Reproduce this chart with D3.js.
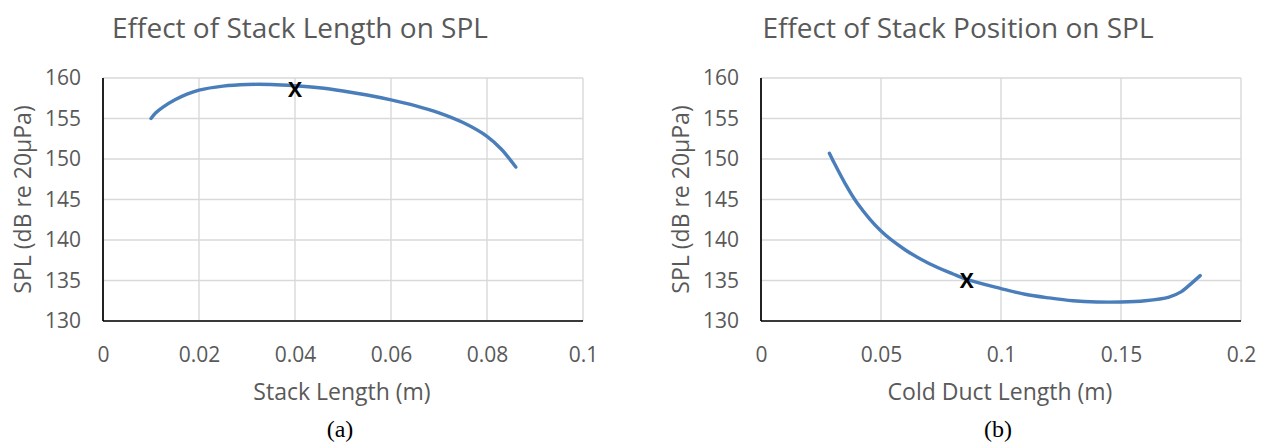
<!DOCTYPE html>
<html>
<head>
<meta charset="utf-8">
<script src="https://d3js.org/d3.v7.min.js"></script>
<style>
  body { margin: 0; background: #fff; }
  svg text { font-family: "Open Sans", sans-serif; fill: #595959; }
  .grid line { stroke: #d9d9d9; stroke-width: 1.4; }
  .axis-line { stroke: #000; stroke-width: 1.7; }
  .caption { font-family: "Liberation Serif", "DejaVu Serif", serif !important; fill: #000 !important; }
</style>
</head>
<body>
<svg id="chart" width="1264" height="443"></svg>
<script>
// ---------- data ----------
const stackLength = [0.010, 0.011, 0.0125, 0.015, 0.0175, 0.020, 0.025, 0.030, 0.035, 0.040, 0.045, 0.050, 0.055, 0.060, 0.065, 0.070, 0.075, 0.080, 0.083, 0.086];
const stackSPL    = [155.0, 155.7, 156.4, 157.3, 158.0, 158.5, 159.0, 159.2, 159.2, 159.05, 158.8, 158.4, 157.9, 157.3, 156.6, 155.7, 154.5, 152.8, 151.2, 149.0];
const stackMarker = [0.040, 158.6];

const ductLength = [0.0285, 0.030, 0.035, 0.040, 0.050, 0.060, 0.070, 0.080, 0.086, 0.100, 0.110, 0.120, 0.130, 0.140, 0.150, 0.160, 0.170, 0.175, 0.178, 0.183];
const ductSPL    = [150.7, 149.8, 147.0, 144.6, 141.1, 138.8, 137.1, 135.8, 135.1, 134.0, 133.3, 132.85, 132.5, 132.35, 132.35, 132.5, 132.95, 133.6, 134.3, 135.6];
const ductMarker = [0.0857, 135.0];

const yTicks = [130, 135, 140, 145, 150, 155, 160];
const xTicksA = [0, 0.02, 0.04, 0.06, 0.08, 0.1];
const xTicksB = [0, 0.05, 0.1, 0.15, 0.2];

const titles = ["Effect of Stack Length on SPL", "Effect of Stack Position on SPL"];
const xTitles = ["Stack Length (m)", "Cold Duct Length (m)"];
const captions = ["(a)", "(b)"];
const yTitle = "SPL (dB re 20\u00b5Pa)";

// ---------- drawing ----------
const svg = d3.select("#chart");

function drawPanel(cfg) {
  const g = svg.append("g").attr("transform", `translate(${cfg.left},${cfg.top})`);
  const w = cfg.width, h = cfg.height;

  const x = d3.scaleLinear().domain(cfg.xDomain).range([0, w]);
  const y = d3.scaleLinear().domain([130, 160]).range([h, 0]);

  // gridlines
  const grid = g.append("g").attr("class", "grid");
  grid.selectAll(".hg").data(yTicks).enter().append("line")
    .attr("x1", 0).attr("x2", w)
    .attr("y1", d => y(d)).attr("y2", d => y(d));
  grid.selectAll(".vg").data(cfg.xTicks).enter().append("line")
    .attr("y1", 0).attr("y2", h)
    .attr("x1", d => x(d)).attr("x2", d => x(d));

  // axes
  const yAxis = d3.axisLeft(y).tickValues(yTicks).tickSize(0).tickPadding(22);
  const xAxis = d3.axisBottom(x).tickValues(cfg.xTicks).tickSize(0).tickPadding(26)
    .tickFormat(d => String(d));

  const ya = g.append("g").call(yAxis);
  ya.select(".domain").remove();
  ya.selectAll("text").style("font-size", "21px").attr("fill", "#595959");

  const xa = g.append("g").attr("transform", `translate(0,${h})`).call(xAxis);
  xa.select(".domain").remove();
  xa.selectAll("text").style("font-size", "21px").attr("fill", "#595959");

  g.append("line").attr("class", "axis-line").attr("x1", 0).attr("x2", 0).attr("y1", 0).attr("y2", h);
  g.append("line").attr("class", "axis-line").attr("x1", 0).attr("x2", w).attr("y1", h).attr("y2", h);

  // line
  const line = d3.line()
    .x(d => x(d[0]))
    .y(d => y(d[1]))
    .curve(d3.curveCatmullRom.alpha(0.5));

  g.append("path")
    .datum(d3.zip(cfg.xs, cfg.ys))
    .attr("d", line)
    .attr("fill", "none")
    .attr("stroke", "#4a7ebb")
    .attr("stroke-width", 3.4)
    .attr("stroke-linecap", "round");

  // marker
  g.append("text")
    .attr("x", x(cfg.marker[0]))
    .attr("y", y(cfg.marker[1]))
    .attr("dy", "0.36em")
    .attr("text-anchor", "middle")
    .style("font-size", "21px")
    .style("font-weight", "bold")
    .style("fill", "#000")
    .text("X");

  // titles
  g.append("text")
    .attr("x", w / 2 - 43).attr("y", -40)
    .attr("text-anchor", "middle")
    .style("font-size", "28px")
    .text(cfg.title);

  g.append("text")
    .attr("x", w / 2 - 1).attr("y", h + 79)
    .attr("text-anchor", "middle")
    .style("font-size", "23px")
    .text(cfg.xTitle);

  g.append("text")
    .attr("transform", `translate(${-72},${h / 2}) rotate(-90)`)
    .attr("text-anchor", "middle")
    .style("font-size", "23px")
    .text(yTitle);

  g.append("text")
    .attr("class", "caption")
    .attr("x", w / 2 - 3).attr("y", h + 116)
    .attr("text-anchor", "middle")
    .style("font-size", "24px")
    .text(cfg.caption);
}

drawPanel({
  left: 103, top: 78, width: 480, height: 243,
  xDomain: [0, 0.1], xTicks: xTicksA,
  xs: stackLength, ys: stackSPL, marker: stackMarker,
  title: titles[0], xTitle: xTitles[0], caption: captions[0]
});

drawPanel({
  left: 761, top: 78, width: 480, height: 243,
  xDomain: [0, 0.2], xTicks: xTicksB,
  xs: ductLength, ys: ductSPL, marker: ductMarker,
  title: titles[1], xTitle: xTitles[1], caption: captions[1]
});
</script>
</body>
</html>
